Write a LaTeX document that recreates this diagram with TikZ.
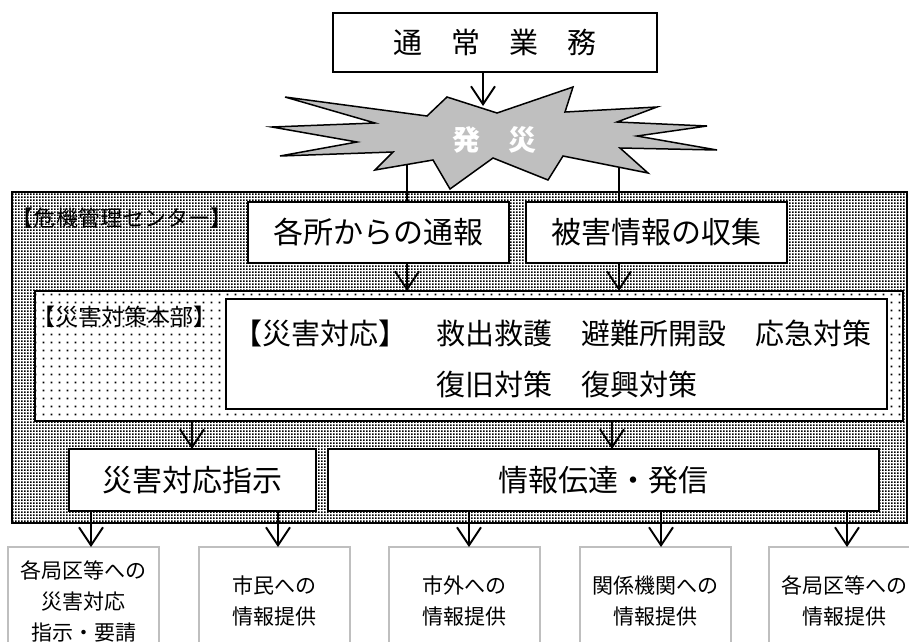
\documentclass[tikz,border=0pt]{standalone}
\usepackage{fontspec}
\setmainfont{Noto Sans CJK JP}
\usetikzlibrary{arrows.meta,patterns.meta}
\tikzdeclarepattern{
  name=densedots,
  type=uncolored,
  bounding box={(0pt,0pt) and (3pt,3pt)},
  tile size={(3pt,3pt)},
  code={\pgfpathrectangle{\pgfpointorigin}{\pgfpoint{2.2pt}{2.2pt}}\pgfusepath{fill}}
}
\tikzdeclarepattern{
  name=sparsedots,
  type=uncolored,
  bounding box={(0pt,0pt) and (8pt,8pt)},
  tile size={(8pt,8pt)},
  code={\pgfpathrectangle{\pgfpoint{3pt}{3pt}}{\pgfpoint{2pt}{2pt}}\pgfusepath{fill}}
}
\newcommand{\fsz}[1]{\fontsize{#1pt}{#1pt}\selectfont}
\begin{document}
\begin{tikzpicture}[x=1pt,y=-1pt,
  box/.style={draw, line width=1.8pt, fill=white, inner sep=0pt, outer sep=0pt, anchor=north west},
  txt/.style={inner sep=0pt, outer sep=0pt},
  gbox/.style={draw=black!25, line width=2pt, fill=white, inner sep=0pt, outer sep=0pt, anchor=north,
    minimum width=151pt, minimum height=108pt, align=center, font=\fontsize{21pt}{31pt}\selectfont},
  arr/.style={-{Straight Barb[length=18pt,width=24pt,line width=1.9pt]}, line width=1.8pt},
  ln/.style={line width=1.6pt}]
\clip (0,0) rectangle (909,641);
\fill[white] (0,0) rectangle (909,641);

% outer frame (crisis management center)
\node[draw, line width=2.2pt, pattern=densedots, pattern color=black, anchor=north west,
  minimum width=895pt, minimum height=331pt, inner sep=0pt, outer sep=0pt] (hq) at (12,192) {};
\node[txt, anchor=west, font=\fsz{22}] (hqlabel) at (12,218) {【危機管理センター】};

% inner frame (disaster HQ)
\node[draw, line width=2pt, fill=white, postaction={pattern=sparsedots, pattern color=black},
  anchor=north west, minimum width=868pt, minimum height=130pt, inner sep=0pt, outer sep=0pt] (hq2) at (35,291) {};
\node[txt, anchor=west, font=\fsz{23}] (hq2label) at (32,317) {【災害対策本部】};

% top box
\node[box, minimum width=324pt, minimum height=59pt, font=\fsz{29}] (tsujo) at (333,13) {通　常　業　務};

% x positions
\coordinate (x0) at (483,0);
\coordinate (e1) at (407,160);
\coordinate (e2) at (619,160);
\coordinate (x1) at (192,0);
\coordinate (x2) at (612,0);

% report boxes
\node[box, minimum width=261pt, minimum height=61pt, font=\fsz{30}] (tsuho) at (248,202) {各所からの通報};
\node[box, minimum width=261pt, minimum height=61pt, font=\fsz{30}] (higai) at (526,202) {被害情報の収集};

% lines from explosion
\draw[ln] (e1) -- (e1 |- tsuho.north);
\draw[ln] (e2) -- (e2 |- higai.north);

% explosion
\draw[fill=black!25, line width=1.5pt, line join=miter]
  (285,97) -- (427,116) -- (447,97) -- (497,113) -- (573,87) -- (565,112) -- (657,107)
  -- (617,122) -- (707,126) -- (637,136) -- (717,150) -- (620,148) -- (648,173)
  -- (563,156) -- (548,180) -- (493,158) -- (450,189) -- (433,160) -- (375,170)
  -- (393,152) -- (280,156) -- (357,142) -- (272,127) -- (375,123) -- cycle;
\node[txt, font=\fsz{28}\bfseries, text=white] (hassai) at (494.5,140) {発　災};
\coordinate (e0) at (483,106);
\draw[arr] (tsujo.south -| x0) -- (e0);

% disaster response box
\node[box, minimum width=661pt, minimum height=110pt] (taio) at (226,299) {};
\node[txt, anchor=west, font=\fsz{29}] (taio1) at (233,333) {【災害対応】　救出救護　避難所開設　応急対策};
\node[txt, anchor=west, font=\fsz{29}] (taio2) at (436,384) {復旧対策　復興対策};

\draw[arr] (tsuho.south -| e1) -- (hq2.north -| e1);
\draw[arr] (higai.south -| e2) -- (hq2.north -| e2);

% instruction / info boxes
\node[box, minimum width=247pt, minimum height=62pt, font=\fsz{30}] (shiji) at (69,449) {災害対応指示};
\node[box, minimum width=551pt, minimum height=62pt, font=\fsz{30}] (joho) at (328,449) {情報伝達・発信};
\draw[arr] (hq2.south -| x1) -- (shiji.north -| x1);
\draw[arr] (hq2.south -| x2) -- (joho.north -| x2);

% bottom boxes
\node[gbox] (b1) at (83.5,547) {各局区等への\\災害対応\\指示・要請};
\node[gbox] (b2) at (274.5,547) {市民への\\情報提供};
\node[gbox] (b3) at (464,547) {市外への\\情報提供};
\node[gbox] (b4) at (655,547) {関係機関への\\情報提供};
\node[gbox] (b5) at (844.5,547) {各局区等への\\情報提供};

\coordinate (y1) at (91,0);
\coordinate (y2) at (278,0);
\coordinate (y3) at (469,0);
\coordinate (y4) at (661,0);
\coordinate (y5) at (847,0);
\draw[arr] (shiji.south -| y1) -- (b1.north -| y1);
\draw[arr] (shiji.south -| y2) -- (b2.north -| y2);
\draw[arr] (joho.south -| y3) -- (b3.north -| y3);
\draw[arr] (joho.south -| y4) -- (b4.north -| y4);
\draw[arr] (joho.south -| y5) -- (b5.north -| y5);
\end{tikzpicture}
\end{document}
